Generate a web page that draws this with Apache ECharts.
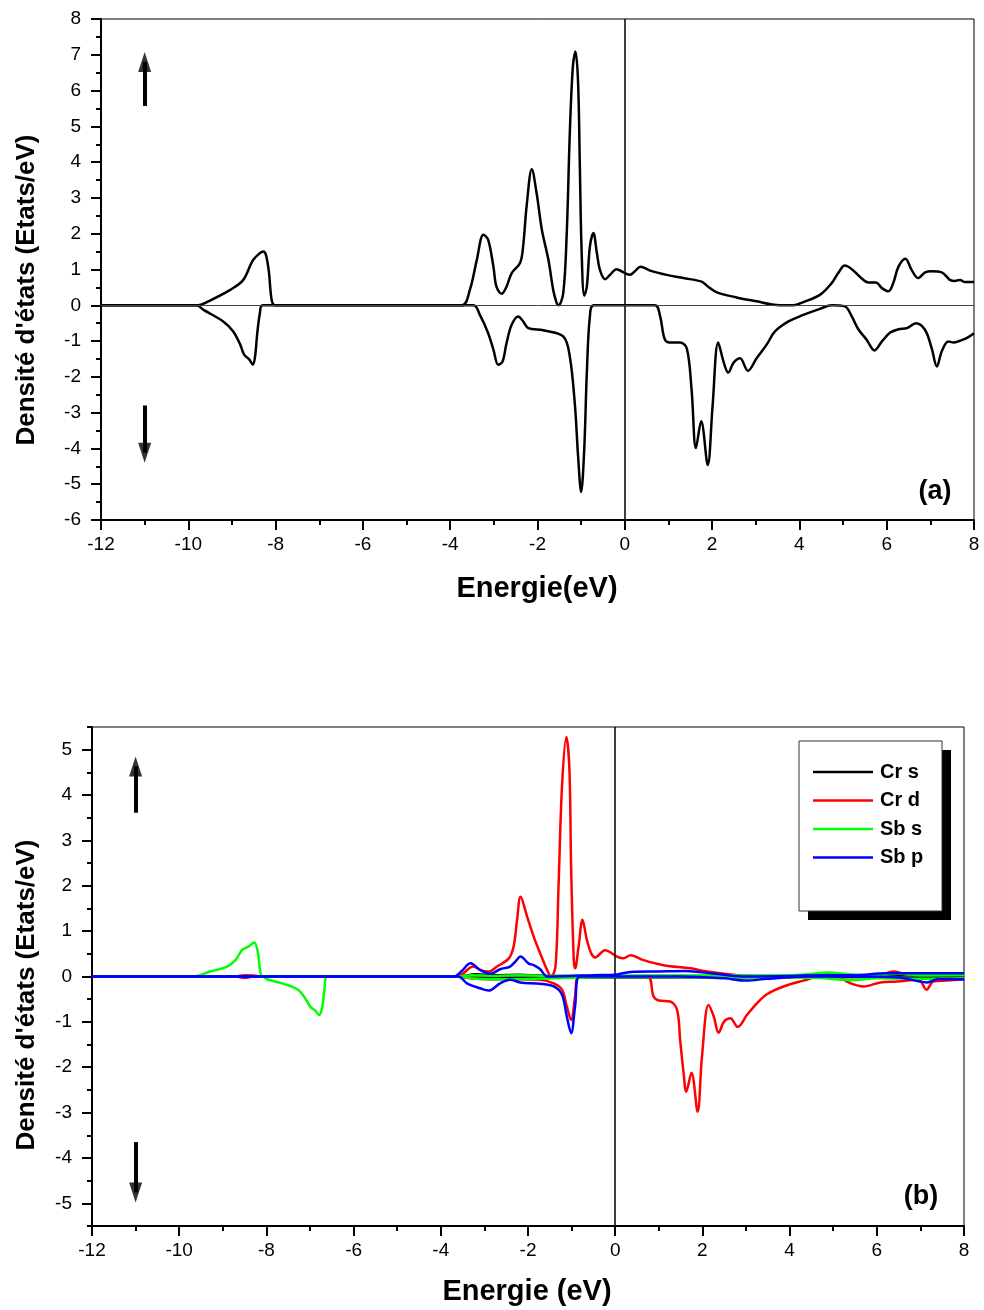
<!DOCTYPE html>
<html>
<head>
<meta charset="utf-8">
<script src="https://cdn.jsdelivr.net/npm/echarts@6/dist/echarts.min.js"></script>
<style>
html,body{margin:0;padding:0;background:#fff;}
#chart{width:984px;height:1310px;}
</style>
</head>
<body>
<div id="chart"></div>
<script>
// ---------- DATA ----------
// Panel (a): total DOS, spin up / spin down  [energy eV, states/eV]
const totalUp = [[-12,0],[-9.77,0],[-9.54,0.11],[-9.04,0.43],[-8.74,0.71],[-8.51,1.27],[-8.28,1.50],[-8.17,1.08],[-8.09,0.15],[-8.01,0],
 [-3.74,0],[-3.55,0.43],[-3.39,1.27],[-3.24,1.97],[-3.13,1.83],[-3.01,1.08],[-2.94,0.52],[-2.82,0.32],[-2.71,0.52],[-2.59,0.90],[-2.40,1.18],[-2.33,1.64],[-2.25,2.76],[-2.13,3.80],[-2.02,3.13],[-1.90,2.11],[-1.75,1.27],[-1.64,0.43],[-1.56,0.06],[-1.52,0.0],
 [-1.41,0.34],[-1.33,2.02],[-1.26,4.81],[-1.19,6.67],[-1.13,7.09],[-1.07,6.21],[-1.03,3.88],[-0.99,1.55],[-0.93,0.27],[-0.87,0.52],[-0.80,1.64],[-0.72,2.02],[-0.64,1.46],[-0.57,0.99],[-0.45,0.73],[-0.34,0.85],[-0.19,1.01],[-0.03,0.92],[0.12,0.85],[0.23,0.95],[0.36,1.08],[0.58,0.97],[0.96,0.85],[1.34,0.76],[1.76,0.66],[1.91,0.52],[2.11,0.36],[2.56,0.22],[3.02,0.11],[3.48,0.01],[3.86,0],
 [4.09,0.09],[4.47,0.29],[4.74,0.62],[4.89,0.90],[5.04,1.11],[5.20,1.01],[5.39,0.79],[5.58,0.64],[5.75,0.64],[5.89,0.48],[6.04,0.39],[6.15,0.62],[6.27,1.08],[6.43,1.30],[6.57,0.99],[6.72,0.76],[6.88,0.92],[7.03,0.95],[7.26,0.92],[7.45,0.71],[7.56,0.68],[7.68,0.71],[7.79,0.65],[8,0.65]];
const totalDown = [[-12,0],[-9.81,0],[-9.65,-0.13],[-9.20,-0.45],[-8.97,-0.73],[-8.81,-1.10],[-8.72,-1.38],[-8.60,-1.52],[-8.52,-1.66],[-8.47,-1.43],[-8.42,-0.78],[-8.36,-0.22],[-8.30,0],
 [-3.47,0],[-3.32,-0.27],[-3.13,-0.78],[-3.01,-1.24],[-2.90,-1.66],[-2.80,-1.57],[-2.71,-1.06],[-2.59,-0.54],[-2.44,-0.31],[-2.33,-0.45],[-2.21,-0.64],[-1.87,-0.70],[-1.41,-0.87],[-1.26,-1.43],[-1.14,-2.83],[-1.07,-4.22],[-1.00,-5.22],[-0.93,-4.04],[-0.87,-1.89],[-0.80,-0.31],[-0.71,0],
 [0.69,0],[0.81,-0.31],[0.92,-0.96],[1.07,-1.04],[1.26,-1.04],[1.42,-1.20],[1.53,-2.36],[1.63,-3.99],[1.75,-3.24],[1.90,-4.46],[2.01,-2.83],[2.14,-1.04],[2.27,-1.61],[2.37,-1.88],[2.49,-1.61],[2.64,-1.48],[2.82,-1.83],[3.02,-1.48],[3.25,-1.10],[3.44,-0.73],[3.75,-0.45],[4.09,-0.27],[4.47,-0.10],[4.74,0],
 [5.04,-0.03],[5.20,-0.31],[5.35,-0.67],[5.54,-0.96],[5.72,-1.26],[5.89,-1.01],[6.08,-0.76],[6.27,-0.67],[6.46,-0.64],[6.67,-0.50],[6.88,-0.69],[7.03,-1.20],[7.15,-1.71],[7.26,-1.29],[7.41,-1.01],[7.53,-1.04],[7.68,-0.99],[7.83,-0.92],[8,-0.78]];

// Panel (b): partial DOS
const crsUp = [[-12,0],[-3.6,0],[-3.2,0.05],[-2.8,0.03],[-2.2,0.04],[-1.5,0.01],[0,0.01],[8,0.01]];
const crsDown = [[-12,0],[-3.6,0],[-3.1,-0.03],[-2.2,-0.03],[-1,-0.02],[8,-0.01]];
const crdUp = [[-12,0],[-8.7,0],[-8.5,0.03],[-8.3,0.02],[-8.1,0],[-3.63,0],[-3.25,0.22],[-3.09,0.14],[-2.90,0.11],[-2.71,0.22],[-2.44,0.40],[-2.33,0.66],[-2.25,1.25],[-2.17,1.76],[-2.02,1.32],[-1.87,0.88],[-1.72,0.51],[-1.56,0.14],[-1.47,0.0],[-1.37,0.22],[-1.30,1.98],[-1.22,4.19],[-1.12,5.28],[-1.05,4.56],[-1.01,2.35],[-0.95,0.36],[-0.92,0.18],[-0.84,0.66],[-0.75,1.25],[-0.65,0.81],[-0.55,0.51],[-0.46,0.42],[-0.23,0.58],[0.04,0.44],[0.19,0.40],[0.35,0.47],[0.65,0.36],[1.11,0.25],[1.72,0.18],[2.11,0.11],[2.79,0.03],[3.56,0],[4.5,0.02],[5.0,0.05],[5.6,0.03],[6.1,0.05],[6.4,0.11],[6.7,0.04],[7.2,0.02],[8,0.02]];
const crdDown = [[-12,0],[-8.7,0],[-8.5,-0.03],[-8.3,0],[-3.6,0],[-3.3,-0.04],[-2.9,-0.06],[-2.18,-0.06],[-1.72,-0.07],[-1.41,-0.15],[-1.22,-0.29],[-1.11,-0.66],[-1.01,-0.96],[-0.92,-0.44],[-0.84,0],[0.73,0],[0.88,-0.44],[1.00,-0.53],[1.26,-0.55],[1.42,-0.74],[1.49,-1.40],[1.57,-2.14],[1.63,-2.54],[1.75,-2.12],[1.89,-2.98],[1.99,-1.77],[2.14,-0.63],[2.26,-0.88],[2.37,-1.24],[2.50,-0.99],[2.64,-0.92],[2.81,-1.11],[3.02,-0.85],[3.25,-0.59],[3.48,-0.39],[3.86,-0.22],[4.32,-0.09],[4.70,0],[5.1,0],[5.35,-0.13],[5.70,-0.22],[6.08,-0.13],[6.46,-0.11],[6.96,-0.07],[7.14,-0.29],[7.30,-0.11],[7.6,-0.09],[8,-0.06]];
const sbsUp = [[-12,0],[-9.67,0],[-9.29,0.11],[-8.90,0.22],[-8.71,0.36],[-8.56,0.58],[-8.41,0.66],[-8.28,0.75],[-8.20,0.55],[-8.14,0.11],[-8.09,0],[-3.6,0],[-3.3,0.03],[-2.8,0.01],[-2.2,0.03],[-1.5,0.01],[0,0.01],[1,0.02],[3,0.02],[4.3,0.04],[4.9,0.09],[5.3,0.05],[6,0.03],[6.5,0.06],[7,0.03],[8,0.04]];
const sbsDown = [[-12,0],[-8.09,0],[-7.99,-0.06],[-7.68,-0.14],[-7.45,-0.21],[-7.26,-0.30],[-7.11,-0.48],[-6.99,-0.67],[-6.88,-0.75],[-6.79,-0.85],[-6.72,-0.67],[-6.67,-0.30],[-6.61,0],[-3.6,0],[-3.2,-0.05],[-2.5,-0.06],[-1.8,-0.05],[-1,-0.03],[0,-0.01],[3,-0.02],[4.6,-0.03],[5.4,-0.08],[6,-0.04],[7,-0.05],[8,-0.04]];
const sbpUp = [[-12,0],[-3.7,0],[-3.52,0.12],[-3.32,0.29],[-3.09,0.14],[-2.86,0.06],[-2.64,0.16],[-2.41,0.22],[-2.29,0.33],[-2.17,0.44],[-1.99,0.29],[-1.87,0.25],[-1.72,0.16],[-1.56,0.0],[-1.0,0.01],[-0.5,0.03],[0,0.04],[0.35,0.10],[1.0,0.11],[1.6,0.12],[2.3,0.06],[3.0,0.0],[4.0,0.01],[4.7,0.03],[5.5,0.03],[6.2,0.07],[7,0.07],[8,0.07]];
const sbpDown = [[-12,0],[-3.6,0],[-3.40,-0.15],[-3.1,-0.26],[-2.90,-0.31],[-2.64,-0.15],[-2.41,-0.07],[-2.18,-0.13],[-1.72,-0.16],[-1.41,-0.22],[-1.22,-0.40],[-1.11,-0.88],[-1.01,-1.25],[-0.92,-0.66],[-0.82,0],[0,0],[1.5,0],[2.5,-0.04],[3.0,-0.09],[3.5,-0.05],[4.5,0],[5.5,0],[6.5,-0.02],[7.15,-0.13],[7.4,-0.06],[8,-0.06]];

const legendNames = ['Cr s','Cr d','Sb s','Sb p'];
const legendColors = ['#000000','#ff0000','#00ff00','#0000ff'];
const yTicksB = [-5,-4,-3,-2,-1,0,1,2,3,4,5];
// spin arrows: [x, shaftStart, headCenter]
const arrowsA = [[-11, 5.57, 6.80], [-11, -2.80, -4.12]];
const arrowsB = [[-11, 3.61, 4.63], [-11, -3.65, -4.76]];

// ---------- CHART ----------
const FONT = "Arial, 'Liberation Sans', sans-serif";
const chart = echarts.init(document.getElementById('chart'), null, {renderer:'canvas'});

function xAxisCfg(gi){
  return {gridIndex:gi, type:'value', min:-12, max:8, interval:2,
    axisLine:{onZero:false, lineStyle:{color:'#000', width:2}},
    axisTick:{inside:false, length:10, lineStyle:{color:'#000', width:2}},
    minorTick:{show:true, splitNumber:2, length:5, lineStyle:{color:'#000', width:2}},
    splitLine:{show:false}, minorSplitLine:{show:false},
    axisLabel:{fontSize:19, color:'#000', margin:15, fontFamily:FONT}};
}

function lineSeries(name, data, color, xi, yi, z){
  return {name:name, type:'line', data:data, xAxisIndex:xi, yAxisIndex:yi,
    symbol:'none', showSymbol:false, smooth:0.35,
    lineStyle:{color:color, width:2.5, join:'round'}, itemStyle:{color:color}, z:z||2,
    emphasis:{disabled:true}, silent:true};
}

function arrowSeries(arr, xi, yi){
  return {type:'scatter', xAxisIndex:xi, yAxisIndex:yi, silent:true, z:5,
    data: arr.map(a => ({value:[a[0], a[2]], symbolRotate: a[2] > a[1] ? 0 : 180})),
    symbol:'triangle', symbolSize:[13,20], itemStyle:{color:'#000'},
    markLine:{silent:true, symbol:['none','none'], label:{show:false},
      lineStyle:{color:'#000', width:4, type:'solid'},
      data: arr.map(a => [{coord:[a[0], a[1]]},{coord:[a[0], a[2]]}])}};
}

function zeroLines(xi, yi, hColor){
  return {type:'line', xAxisIndex:xi, yAxisIndex:yi, data:[], silent:true, z:1,
    markLine:{silent:true, symbol:['none','none'], label:{show:false}, animation:false,
      data:[{xAxis:0, lineStyle:{color:'#000', width:1.5, type:'solid'}},
            {yAxis:0, lineStyle:{color:hColor, width:1, type:'solid'}}]}};
}

const option = {
  animation:false,
  backgroundColor:'#fff',
  grid:[
    {left:101, top:19, width:873, height:501, show:true, borderColor:'#000', borderWidth:1, backgroundColor:'transparent'},
    {left:92, top:727, width:872, height:499, show:true, borderColor:'#000', borderWidth:1, backgroundColor:'transparent'}
  ],
  xAxis:[xAxisCfg(0), xAxisCfg(1)],
  yAxis:[
    {gridIndex:0, type:'value', min:-6, max:8, interval:1, position:'left',
      axisLine:{onZero:false, lineStyle:{color:'#000', width:2}},
      axisTick:{inside:false, length:10, lineStyle:{color:'#000', width:2}},
      minorTick:{show:true, splitNumber:2, length:5, lineStyle:{color:'#000', width:2}},
      splitLine:{show:false}, minorSplitLine:{show:false},
      axisLabel:{fontSize:19, color:'#000', margin:20, fontFamily:FONT}},
    {gridIndex:1, type:'value', min:-5.5, max:5.5, interval:0.5, position:'left',
      axisLine:{onZero:false, lineStyle:{color:'#000', width:2}},
      axisTick:{inside:false, length:10, customValues:yTicksB, lineStyle:{color:'#000', width:2}},
      splitLine:{show:false},
      axisLabel:{fontSize:19, color:'#000', margin:20, fontFamily:FONT, customValues:yTicksB}},
    {gridIndex:1, type:'value', min:-5.5, max:5.5, interval:0.5, position:'left', offset:0,
      axisLine:{show:false, onZero:false},
      axisTick:{inside:false, length:5, lineStyle:{color:'#000', width:2}},
      splitLine:{show:false}, axisLabel:{show:false}}
  ],
  legend:{
    data: legendNames, orient:'vertical', left:813, top:762, padding:0,
    icon:'rect', itemWidth:60, itemHeight:2.5, itemGap:8.5, selectedMode:false, z:30,
    textStyle:{fontSize:20, fontWeight:'bold', color:'#000', fontFamily:FONT, padding:[0,0,0,2]}
  },
  graphic:[
    {type:'rect', z:20, shape:{x:808, y:750, width:143, height:170}, style:{fill:'#000'}},
    {type:'rect', z:21, shape:{x:799, y:741, width:143, height:170}, style:{fill:'#fff', stroke:'#333', lineWidth:1}},
    {type:'text', z:25, x:27, y:290, rotation:Math.PI/2, style:{text:"Densité d'états (Etats/eV)", font:"bold 26px "+FONT, fill:'#000', align:'center', verticalAlign:'middle'}},
    {type:'text', z:25, x:27, y:995, rotation:Math.PI/2, style:{text:"Densité d'états (Etats/eV)", font:"bold 26px "+FONT, fill:'#000', align:'center', verticalAlign:'middle'}},
    {type:'text', z:25, x:537, y:589, style:{text:"Energie(eV)", font:"bold 29px "+FONT, fill:'#000', align:'center', verticalAlign:'middle'}},
    {type:'text', z:25, x:527, y:1292, style:{text:"Energie (eV)", font:"bold 29px "+FONT, fill:'#000', align:'center', verticalAlign:'middle'}},
    {type:'text', z:25, x:935, y:492, style:{text:"(a)", font:"bold 27px "+FONT, fill:'#000', align:'center', verticalAlign:'middle'}},
    {type:'text', z:25, x:921, y:1197, style:{text:"(b)", font:"bold 27px "+FONT, fill:'#000', align:'center', verticalAlign:'middle'}}
  ],
  series:[
    zeroLines(0, 0, '#444'),
    zeroLines(1, 1, '#444'),
    lineSeries('Total up', totalUp, '#000', 0, 0, 3),
    lineSeries('Total down', totalDown, '#000', 0, 0, 3),
    arrowSeries(arrowsA, 0, 0),
    lineSeries('Cr s', crsUp, legendColors[0], 1, 1, 3),
    lineSeries('Cr s', crsDown, legendColors[0], 1, 1, 3),
    lineSeries('Cr d', crdUp, legendColors[1], 1, 1, 4),
    lineSeries('Cr d', crdDown, legendColors[1], 1, 1, 4),
    lineSeries('Sb s', sbsUp, legendColors[2], 1, 1, 5),
    lineSeries('Sb s', sbsDown, legendColors[2], 1, 1, 5),
    lineSeries('Sb p', sbpUp, legendColors[3], 1, 1, 6),
    lineSeries('Sb p', sbpDown, legendColors[3], 1, 1, 6),
    arrowSeries(arrowsB, 1, 1)
  ]
};
chart.setOption(option);
</script>
</body>
</html>
